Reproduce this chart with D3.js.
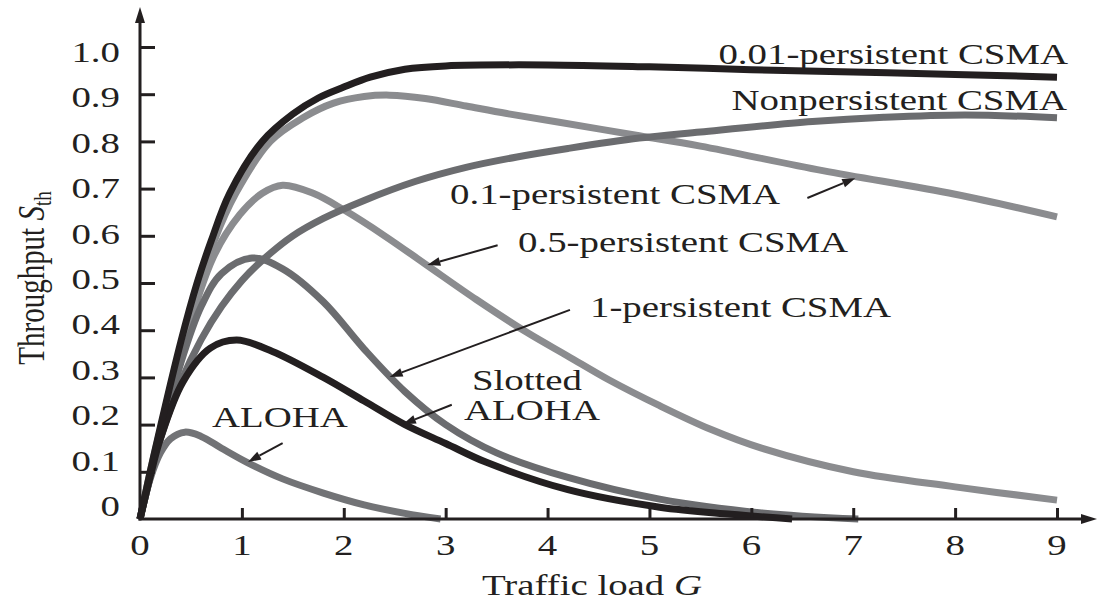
<!DOCTYPE html>
<html>
<head>
<meta charset="utf-8">
<script src="https://cdn.jsdelivr.net/npm/d3@7"></script>
<style>
  html, body { margin: 0; padding: 0; background: #fff; }
  svg { display: block; }
</style>
</head>
<body>
<div id="chart"></div>
<script>
// Throughput vs traffic load for ALOHA and CSMA variants.

const xTicks = [0, 1, 2, 3, 4, 5, 6, 7, 8, 9];
const yTicks = [0.1, 0.2, 0.3, 0.4, 0.5, 0.6, 0.7, 0.8, 0.9, 1.0];
const yTickLabels = ["0", "0.1", "0.2", "0.3", "0.4", "0.5", "0.6", "0.7", "0.8", "0.9", "1.0"];

const p001G = [0, 0.1, 0.2, 0.4, 0.56, 0.7, 0.88, 1.2, 1.5, 1.75, 2, 2.26, 2.6, 3, 4, 5, 6, 7, 8, 9];
const p001S = [0, 0.1, 0.195, 0.375, 0.5, 0.59, 0.69, 0.8, 0.858, 0.892, 0.915, 0.936, 0.953, 0.96, 0.962, 0.958, 0.952, 0.947, 0.942, 0.936];

const p01G = [0, 0.1, 0.2, 0.4, 0.73, 0.94, 1.28, 1.6, 1.9, 2.2, 2.45, 2.8, 3.2, 3.6, 4.1, 4.9, 5.5, 6.7, 8, 9];
const p01S = [0, 0.1, 0.19, 0.365, 0.59, 0.69, 0.8, 0.85, 0.881, 0.895, 0.898, 0.891, 0.875, 0.859, 0.841, 0.812, 0.79, 0.738, 0.688, 0.64];

const nonpG = [0, 0.1, 0.2, 0.4, 0.6, 0.8, 1.0, 1.2, 1.5, 1.8, 2.2, 2.7, 3.2, 3.7, 4.2, 4.9, 5.5, 6.6, 7.3, 8.1, 9.0];
const nonpS = [0, 0.09, 0.17, 0.29, 0.38, 0.45, 0.505, 0.548, 0.6, 0.637, 0.675, 0.715, 0.745, 0.767, 0.785, 0.807, 0.82, 0.842, 0.851, 0.856, 0.85];

const p05G = [0, 0.1, 0.2, 0.4, 0.72, 0.98, 1.2, 1.4, 1.7, 2.0, 2.4, 2.8, 3.3, 3.8, 4.2, 4.6, 5.1, 5.6, 6.1, 7.0, 8.0, 9.0];
const p05S = [0, 0.095, 0.18, 0.35, 0.555, 0.645, 0.69, 0.707, 0.69, 0.655, 0.6, 0.54, 0.465, 0.395, 0.345, 0.295, 0.24, 0.19, 0.15, 0.1, 0.068, 0.04];

const p1G = [0, 0.1, 0.2, 0.4, 0.6, 0.8, 1.1, 1.4, 1.8, 2.2, 2.6, 3.0, 3.5, 4.2, 5.1, 6.1, 7.05];
const p1S = [0, 0.09, 0.17, 0.33, 0.45, 0.52, 0.553, 0.53, 0.46, 0.36, 0.27, 0.2, 0.14, 0.088, 0.042, 0.013, 0];

const slottedG = [0, 0.1, 0.2, 0.42, 0.69, 0.95, 1.3, 1.8, 2.2, 2.6, 3.0, 3.4, 4.2, 5.1, 5.8, 6.4];
const slottedS = [0, 0.09, 0.17, 0.29, 0.362, 0.379, 0.355, 0.3, 0.25, 0.2, 0.16, 0.12, 0.062, 0.025, 0.01, 0];

const alohaG = [0, 0.1, 0.2, 0.3, 0.44, 0.6, 0.8, 1.05, 1.4, 1.8, 2.2, 2.6, 2.95];
const alohaS = [0, 0.085, 0.14, 0.17, 0.184, 0.175, 0.15, 0.12, 0.085, 0.055, 0.03, 0.012, 0];

const ink = "#231f20";
const light = "#8b8c8f";
const dark = "#6b6c6f";

const series = [
  { name: "0.1-persistent CSMA", g: p01G, s: p01S, color: light },
  { name: "0.5-persistent CSMA", g: p05G, s: p05S, color: light },
  { name: "Nonpersistent CSMA", g: nonpG, s: nonpS, color: dark },
  { name: "1-persistent CSMA", g: p1G, s: p1S, color: dark },
  { name: "ALOHA", g: alohaG, s: alohaS, color: "#727376" },
  { name: "Slotted ALOHA", g: slottedG, s: slottedS, color: ink },
  { name: "0.01-persistent CSMA", g: p001G, s: p001S, color: ink }
];

const width = 1097;
const height = 602;
const stretch = 1.34; // the figure's type is drawn wider than it is tall
const font = "'Liberation Serif', 'Times New Roman', serif";
const fontSize = 29;

const x = d3.scaleLinear().domain([0, 9]).range([140, 1057]);
const y = d3.scaleLinear().domain([0, 1]).range([519, 47]);
// tick labels are set on a slightly tighter pitch than the ticks themselves
const yLabel = d3.scaleLinear().domain([0, 1]).range([517, 63]);

const svg = d3.select("#chart").append("svg")
  .attr("width", width)
  .attr("height", height)
  .attr("viewBox", `0 0 ${width} ${height}`);

svg.append("rect").attr("width", width).attr("height", height).attr("fill", "#fff");

function label(parent, text, px, py, anchor, rotate) {
  const t = parent.append("text")
    .attr("transform", `translate(${px},${py}) scale(${stretch},1)` + (rotate ? ` rotate(${rotate})` : ""))
    .attr("text-anchor", anchor || "start")
    .attr("font-family", font)
    .attr("font-size", fontSize)
    .attr("fill", ink);
  if (text) t.text(text);
  return t;
}

// curves
const line = d3.line()
  .x((d) => x(d[0]))
  .y((d) => y(d[1]))
  .curve(d3.curveCatmullRom.alpha(0.5));

svg.append("g")
  .selectAll("path")
  .data(series)
  .join("path")
  .attr("d", (d) => line(d.g.map((g, i) => [g, d.s[i]])))
  .attr("fill", "none")
  .attr("stroke", (d) => d.color)
  .attr("stroke-width", 7)
  .attr("stroke-linejoin", "round");

// axes
const axes = svg.append("g");
axes.append("g")
  .attr("transform", `translate(${x(0)},0)`)
  .call(d3.axisLeft(y).tickValues(yTicks).tickSize(-15).tickSizeOuter(0).tickFormat(""))
  .call((g) => g.select(".domain").remove())
  .call((g) => g.selectAll("line").attr("stroke", ink).attr("stroke-width", 3));
axes.append("g")
  .attr("transform", `translate(0,${y(0)})`)
  .call(d3.axisBottom(x).tickValues(xTicks.slice(1)).tickSize(-11).tickSizeOuter(0).tickFormat(""))
  .call((g) => g.select(".domain").remove())
  .call((g) => g.selectAll("line").attr("stroke", ink).attr("stroke-width", 3));

axes.append("line")
  .attr("x1", x(0)).attr("x2", x(0))
  .attr("y1", y(0) + 1.5).attr("y2", 20)
  .attr("stroke", ink).attr("stroke-width", 3);
axes.append("path")
  .attr("d", `M ${x(0)} 7 L ${x(0) - 5} 23 L ${x(0) + 5} 23 Z`)
  .attr("fill", ink);
axes.append("line")
  .attr("x1", x(0) - 1.5).attr("x2", 1085)
  .attr("y1", y(0)).attr("y2", y(0))
  .attr("stroke", ink).attr("stroke-width", 3);
axes.append("path")
  .attr("d", `M 1097 ${y(0)} L 1081 ${y(0) - 5} L 1081 ${y(0) + 5} Z`)
  .attr("fill", ink);

// tick labels
yTickLabels.forEach((t, i) => {
  label(axes, t, 120, yLabel(i / 10) - 1, "end");
});
xTicks.forEach((t) => {
  label(axes, String(t), x(t), 555, "middle");
});

// axis titles
const xt = label(svg, null, 592, 595, "middle");
xt.append("tspan").text("Traffic load ");
xt.append("tspan").attr("font-style", "italic").text("G");

const yt = label(svg, null, 44, 278, "middle", -90);
yt.append("tspan").text("Throughput ");
yt.append("tspan").attr("font-style", "italic").text("S");
yt.append("tspan").attr("font-size", 19).attr("dy", 5).text("th");

// curve labels
label(svg, "0.01-persistent CSMA", 1068, 64, "end");
label(svg, "Nonpersistent CSMA", 1067, 110, "end");
label(svg, "0.1-persistent CSMA", 450, 204, "start");
label(svg, "0.5-persistent CSMA", 518, 252, "start");
label(svg, "1-persistent CSMA", 590, 317, "start");
label(svg, "Slotted", 527, 390, "middle");
label(svg, "ALOHA", 532, 420, "middle");
label(svg, "ALOHA", 212, 427, "start");

// arrows: [fromG, fromS, toG, toS]
const arrows = [
  [6.55, 0.68, 7.02, 0.722],
  [3.51, 0.58, 2.82, 0.538],
  [4.22, 0.443, 2.45, 0.301],
  [3.06, 0.242, 2.58, 0.201],
  [1.40, 0.161, 1.06, 0.121]
];
const arrowG = svg.append("g");
arrows.forEach(([g0, s0, g1, s1]) => {
  const x0 = x(g0), y0 = y(s0), x1 = x(g1), y1 = y(s1);
  const a = Math.atan2(y1 - y0, x1 - x0);
  const len = 13, half = 4.5;
  const bx = x1 - len * Math.cos(a), by = y1 - len * Math.sin(a);
  arrowG.append("line")
    .attr("x1", x0).attr("y1", y0).attr("x2", bx).attr("y2", by)
    .attr("stroke", ink).attr("stroke-width", 2);
  const px = -Math.sin(a) * half, py = Math.cos(a) * half;
  arrowG.append("path")
    .attr("d", `M ${x1} ${y1} L ${bx + px} ${by + py} L ${bx - px} ${by - py} Z`)
    .attr("fill", ink);
});
</script>
</body>
</html>
